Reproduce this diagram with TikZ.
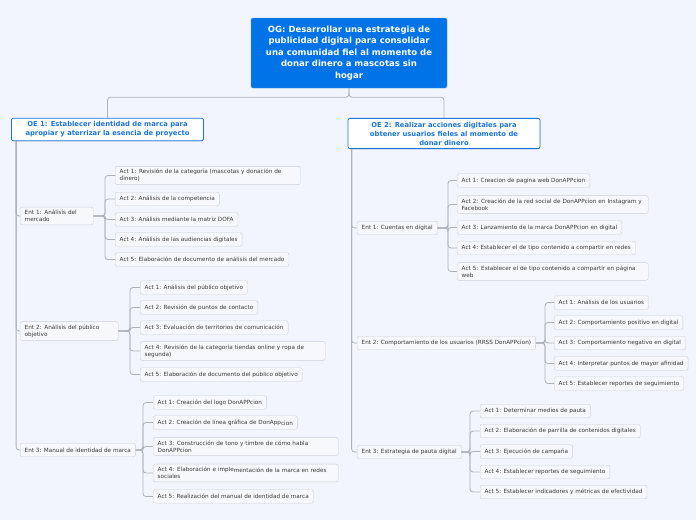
\documentclass[tikz,border=0pt]{standalone}
\usepackage{fontspec}
\setmainfont{DejaVu Sans}
\usetikzlibrary{positioning,calc,shadows}
\definecolor{Page}{HTML}{F2F5FE}
\definecolor{MainBlue}{HTML}{0073E6}
\definecolor{OeBlue}{HTML}{1B74DA}
\definecolor{BoxFill}{HTML}{F7F8FE}
\definecolor{BoxLine}{HTML}{CDD1DB}
\definecolor{Wire}{HTML}{ADB1BA}
\definecolor{Ink}{HTML}{3A3A3A}

\begin{document}
\begin{tikzpicture}[
  x=1pt,y=-1pt,
  og/.style={rounded corners=2pt,fill=MainBlue,draw=MainBlue!70!white,text=white,font=\fontsize{8.5}{11.4}\selectfont\bfseries,align=center,minimum width=196pt,minimum height=70pt},
  oe/.style={rounded corners=2pt,fill=white,draw=OeBlue,thick,text=OeBlue,font=\fontsize{6.8}{9}\selectfont\bfseries,align=center,minimum width=192pt,inner ysep=3.5pt,drop shadow={opacity=0.2,shadow xshift=0.6pt,shadow yshift=-0.8pt}},
  ent/.style={rounded corners=2pt,fill=BoxFill,draw=BoxLine,text=Ink,font=\fontsize{5.7}{7}\selectfont,align=left,inner xsep=4.5pt,inner ysep=3pt,minimum height=13.5pt,anchor=west},
  act/.style={ent},
  wide/.style={text width=176pt},
  link/.style={draw=Wire,line width=0.8pt,rounded corners=3pt}
]
\useasboundingbox (0,0) rectangle (696,520);
\fill[Page] (0,0) rectangle (696,520);

% main goal
\node[og] (og) at (349,53) {OG: Desarrollar una estrategia de\\publicidad digital para consolidar\\una comunidad fiel al momento de\\donar dinero a mascotas sin\\hogar};
\node[oe] (oe1) at (107.5,129.5) {OE 1: Establecer identidad de marca para\\apropiar y aterrizar la esencia de proyecto};
\node[oe] (oe2) at (444,133.5) {OE 2: Realizar acciones digitales para\\obtener usuarios fieles al momento de\\donar dinero};
\draw[link] (og.south) -- ++(0,9) -| (oe1.north);
\draw[link] (og.south) -- ++(0,9) -| (oe2.north);

% left branch
\node[ent,text width=64pt] (le1) at (20,216) {Ent 1: Análisis del\\mercado};
\node[ent,text width=89pt] (le2) at (20,331) {Ent 2: Análisis del público\\objetivo};
\node[ent] (le3) at (20,450) {Ent 3: Manual de identidad de marca};
\foreach \i in {1,2,3}
  \draw[link] ([xshift=5pt]oe1.south west) |- (le\i.west);

\node[act,wide] (la1) at (115,175.5) {Act 1: Revisión de la categoría (mascotas y donación de\\dinero)};
\node[act] (la2) at (115,199) {Act 2: Análisis de la competencia};
\node[act] (la3) at (115,219.5) {Act 3: Análisis mediante la matriz DOFA};
\node[act] (la4) at (115,239.5) {Act 4: Análisis de las audiencias digitales};
\node[act] (la5) at (115,259.5) {Act 5: Elaboración de documento de análisis del mercado};
\foreach \i in {1,...,5}
  \draw[link] (la\i.west) -- ++(-10,0) |- (le1.east);

\node[act] (lb1) at (140,287.5) {Act 1: Análisis del público objetivo};
\node[act] (lb2) at (140,307.5) {Act 2: Revisión de puntos de contacto};
\node[act] (lb3) at (140,327.5) {Act 3: Evaluación de territorios de comunicación};
\node[act,wide] (lb4) at (140,351) {Act 4: Revisión de la categoría tiendas online y ropa de\\segunda)};
\node[act] (lb5) at (140,374.5) {Act 5: Elaboración de documento del público objetivo};
\foreach \i in {1,...,5}
  \draw[link] (lb\i.west) -- ++(-10,0) |- (le2.east);

\node[act] (lc1) at (153,402.5) {Act 1: Creación del logo DonAPPcion};
\node[act] (lc2) at (153,422.5) {Act 2: Creación de línea gráfica de DonApp\raisebox{-0.9pt}{cion}};
\node[act,wide] (lc3) at (153,446.5) {Act 3: Construcción de tono y timbre de cómo habla\\DonAPPcion};
\node[act,wide] (lc4) at (153,473) {Act 4: Elaboración e imple\raisebox{-0.9pt}{mentación de la marca en redes}\\sociales};
\node[act] (lc5) at (153,496.5) {Act 5: Realización del manual de identidad de marca};
\foreach \i in {1,...,5}
  \draw[link] (lc\i.west) -- ++(-10,0) |- (le3.east);

% right branch
\node[ent] (re1) at (357,228) {Ent 1: Cuentas en digital};
\node[ent] (re2) at (357,343) {Ent 2: Comportamiento de los usuarios (RRSS DonAPPcion)};
\node[ent] (re3) at (357,452) {Ent 3: Estrategia de pauta digital};
\foreach \i in {1,2,3}
  \draw[link] ([xshift=4pt]oe2.south west) |- (re\i.west);

\node[act] (ra1) at (457,180.5) {Act 1: Creacion de pagina web DonAPPcion};
\node[act,wide,text width=182pt] (ra2) at (457,204.5) {Act 2: Creación de la red social de DonAPPcion en Instagram y\\Facebook};
\node[act] (ra3) at (457,227.5) {Act 3: Lanzamiento de la marca DonAPPcion en digital};
\node[act] (ra4) at (457,248) {Act 4: Establecer el de tipo contenido a compartir en redes};
\node[act,wide,text width=182pt] (ra5) at (457,271.5) {Act 5: Establecer el de tipo contenido a compartir en página\\web};
\foreach \i in {1,...,5}
  \draw[link] (ra\i.west) -- ++(-9,0) |- (re1.east);

\node[act] (rb1) at (554,302.5) {Act 1: Análisis de los usuarios};
\node[act] (rb2) at (554,322.5) {Act 2: Comportamiento positivo en digital};
\node[act] (rb3) at (554,343) {Act 3: Comportamiento negativo en digital};
\node[act] (rb4) at (554,363.5) {Act 4: Interpretar puntos de mayor afinidad};
\node[act] (rb5) at (554,383.5) {Act 5: Establecer reportes de seguimiento};
\foreach \i in {1,...,5}
  \draw[link] (rb\i.west) -- ++(-9,0) |- (re2.east);

\node[act] (rc1) at (480,411) {Act 1: Determinar medios de pauta};
\node[act] (rc2) at (480,431) {Act 2: Elaboración de parrilla de contenidos digitales};
\node[act] (rc3) at (480,451.5) {Act 3: Ejecución de campaña};
\node[act] (rc4) at (480,472) {Act 4: Establecer reportes de seguimiento};
\node[act] (rc5) at (480,492) {Act 5: Establecer indicadores y métricas de efectividad};
\foreach \i in {1,...,5}
  \draw[link] (rc\i.west) -- ++(-10,0) |- (re3.east);
\end{tikzpicture}
\end{document}
